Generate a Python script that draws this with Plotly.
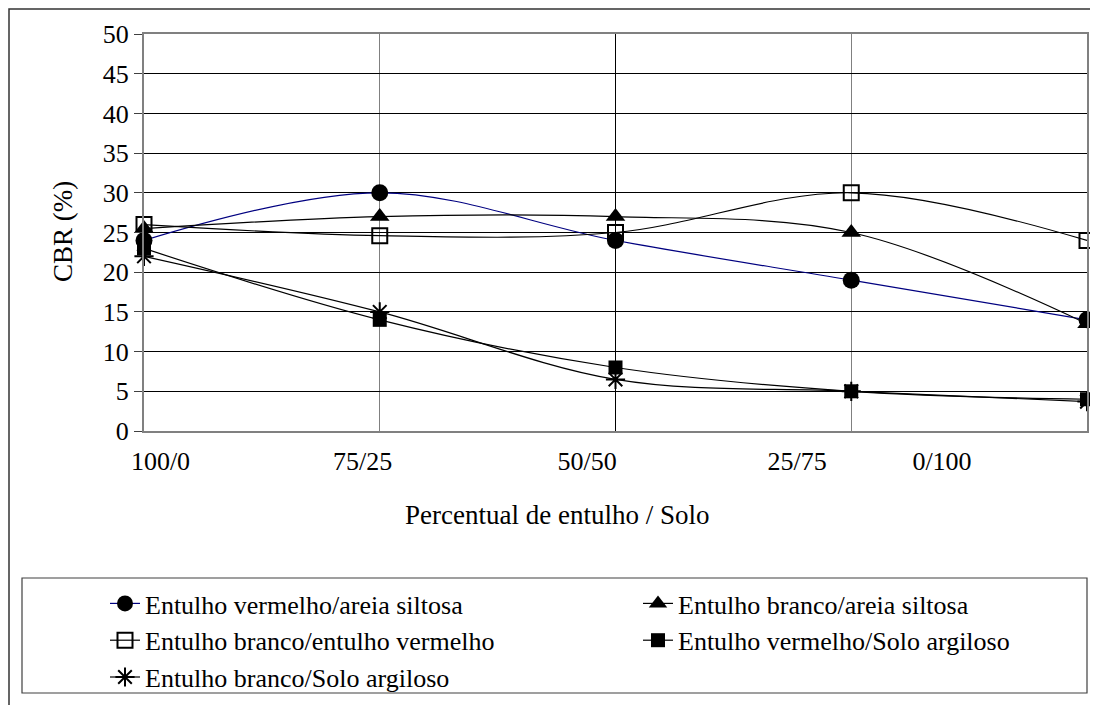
import plotly.graph_objects as go

# ---- data ----
categories = [0, 1, 2, 3, 4]  # category index positions
tick_labels = ["100/0", "75/25", "50/50", "25/75", "0/100"]
tick_label_pos = [0.07, 0.927, 1.88, 2.77, 3.385]  # where the (offset) labels sit

s_verm_areia = [24, 30, 24, 19, 14]
s_branco_areia = [25.5, 27, 27, 25, 13.5]
s_branco_verm = [26, 24.6, 25, 30, 24]
s_verm_argila = [23, 14, 8, 5, 4]
s_branco_argila = [22, 15, 6.5, 5, 3.7]

names = [
    "Entulho vermelho/areia siltosa",
    "Entulho branco/areia siltosa",
    "Entulho branco/entulho vermelho",
    "Entulho vermelho/Solo argiloso",
    "Entulho branco/Solo argiloso",
]

OFF = 8  # page body margin
W, H = 1098 - OFF, 705 - OFF
FONT = "'Liberation Serif', 'Times New Roman', Tinos, 'DejaVu Serif', serif"

def px_x(p):
    return (p - OFF) / W

def px_y(p):
    return (H - (p - OFF)) / H

fig = go.Figure()

series = [
    (s_verm_areia, names[0], "#000080", dict(symbol="circle", size=17, color="black"), "legend"),
    (s_branco_areia, names[1], "black", dict(symbol="triangle-up", size=17, color="black"), "legend2"),
    (s_branco_verm, names[2], "black", dict(symbol="square-open", size=15, color="black", line=dict(width=2, color="black")), "legend"),
    (s_verm_argila, names[3], "black", dict(symbol="square", size=14, color="black"), "legend2"),
    (s_branco_argila, names[4], "black", dict(symbol="asterisk-open", size=16, color="black", line=dict(width=2, color="black")), "legend"),
]

for vals, name, lc, mk, lg in series:
    fig.add_trace(go.Scatter(
        x=categories, y=vals, name=name, mode="lines+markers",
        line=dict(color=lc, width=1.2, shape="spline", smoothing=1),
        marker=mk, cliponaxis=False, legend=lg,
    ))

# invisible traces to carry the offset category labels / centre gridline on extra x axes
fig.add_trace(go.Scatter(x=[categories[0], categories[-1]], y=[None, None], xaxis="x2",
                         showlegend=False, hoverinfo="skip"))
fig.add_trace(go.Scatter(x=[categories[0], categories[-1]], y=[None, None], xaxis="x3",
                         showlegend=False, hoverinfo="skip"))

xdom = [px_x(144), px_x(1087)]
ydom = [px_y(431), px_y(34)]

legend_common = dict(orientation="v", xanchor="left", yanchor="top",
                     bgcolor="rgba(0,0,0,0)", borderwidth=0,
                     font=dict(family=FONT, size=26, color="black"),
                     tracegroupgap=0, itemsizing="trace")

fig.update_layout(
    template="none",
    width=W, height=H,
    margin=dict(l=0, r=0, t=0, b=0, autoexpand=False),
    paper_bgcolor="white", plot_bgcolor="white",
    font=dict(family=FONT, size=26, color="black"),
    showlegend=True,
    xaxis=dict(domain=xdom, range=[0, 4],
               tickvals=[c for c in categories if c != 2], showticklabels=False,
               showgrid=True, gridcolor="#808080", gridwidth=1,
               showline=True, linecolor="#808080", linewidth=2, mirror=True,
               ticks="", zeroline=False, automargin=False),
    xaxis2=dict(domain=xdom, range=[0, 4], overlaying="x", anchor="y", side="bottom",
                tickvals=tick_label_pos, ticktext=tick_labels, showgrid=False,
                showline=False, ticks="", zeroline=False, ticklabelstandoff=12,
                automargin=False,
                tickfont=dict(family=FONT, size=26, color="black")),
    xaxis3=dict(domain=xdom, range=[0, 4], overlaying="x", anchor="y",
                tickvals=[categories[2]], showticklabels=False, showgrid=True,
                gridcolor="black", gridwidth=1, showline=False, ticks="",
                zeroline=False, automargin=False),
    yaxis=dict(domain=ydom, range=[0, 50], dtick=5, showgrid=True,
               gridcolor="black", gridwidth=1,
               showline=True, linecolor="#808080", linewidth=2, mirror=True,
               ticks="outside", ticklen=8, tickcolor="#404040", tickwidth=1,
               zeroline=False, automargin=False,
               tickfont=dict(family=FONT, size=26, color="black")),
    legend=dict(x=px_x(105), y=px_y(580), **legend_common),
    legend2=dict(x=px_x(638), y=px_y(580), **legend_common),
    annotations=[
        dict(text="CBR (%)", x=px_x(63), y=px_y(232), xref="paper", yref="paper",
             xanchor="center", yanchor="middle",
             textangle=-90, showarrow=False, font=dict(family=FONT, size=27)),
        dict(text="Percentual de entulho / Solo", x=px_x(557), y=px_y(515),
             xanchor="center", yanchor="middle",
             xref="paper", yref="paper", showarrow=False, font=dict(family=FONT, size=27)),
    ],
    shapes=[
        dict(type="rect", xref="paper", yref="paper", x0=px_x(9), y0=-0.05, x1=1.05,
             y1=px_y(9), line=dict(color="#333333", width=1.5)),
        dict(type="rect", xref="paper", yref="paper", x0=px_x(22), y0=px_y(693),
             x1=px_x(1087), y1=px_y(578), line=dict(color="#404040", width=1.2)),
    ],
)

fig.write_html("out.html")
